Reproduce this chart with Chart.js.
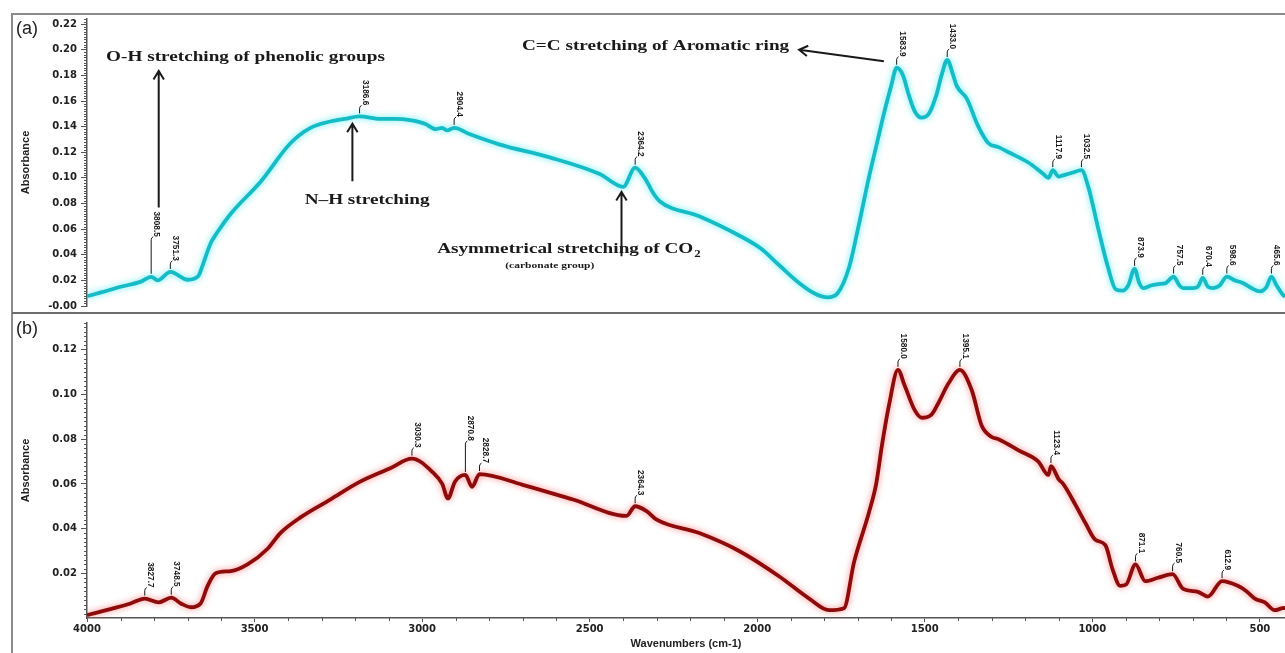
<!DOCTYPE html>
<html>
<head>
<meta charset="utf-8">
<script src="https://cdn.jsdelivr.net/npm/chart.js@4/dist/chart.umd.min.js"></script>
<style>
  body { margin: 0; background: #fff; width: 1285px; height: 653px; overflow: hidden; position: relative; font-family: "Liberation Sans", Arial, sans-serif; }
  #frame { position: absolute; left: 11px; top: 13px; width: 1300px; height: 660px; border-left: 2px solid #8c8c8c; border-top: 2px solid #8c8c8c; }
  #sep { position: absolute; left: 12px; top: 312px; width: 1273px; border-top: 2px solid #6c6c6c; }
  canvas { position: absolute; left: 0; }
  #ca { top: 0; }
  #cb { top: 313px; }
  .tag { position: absolute; left: 16px; font-size: 18px; color: #222; }
</style>
</head>
<body>
<div id="frame"></div>
<canvas id="ca" width="1285" height="316"></canvas>
<canvas id="cb" width="1285" height="340"></canvas>
<div id="sep"></div>
<div class="tag" style="top:18px">(a)</div>
<div class="tag" style="top:318px">(b)</div>
<script>
// spectrum (a) - cyan
const waveA = [4000, 3958, 3899, 3839, 3808.5, 3789, 3751.3, 3699, 3667, 3660, 3631, 3610, 3571, 3482, 3393, 3333, 3274, 3230, 3186.6, 3125, 3080, 3036, 2990, 2960, 2940, 2925, 2904.4, 2857, 2768, 2619, 2470, 2400, 2364.2, 2336, 2310, 2292, 2173, 2054, 1990, 1935, 1875, 1830, 1790, 1760, 1726, 1697, 1667, 1640, 1622, 1600, 1583.9, 1565, 1548, 1530, 1510, 1488, 1465, 1450, 1433.0, 1415, 1405, 1375, 1340, 1310, 1280, 1250, 1191, 1160, 1146, 1131, 1117.9, 1100, 1087, 1060, 1032.5, 1012, 982, 953, 930, 910, 893, 873.9, 860, 848, 825, 804, 780, 757.5, 740, 729, 700, 685, 670.4, 655, 640, 620, 598.6, 575, 551, 525, 500, 480, 465.6, 450, 432, 425];
const absA  = [0.0076, 0.0106, 0.0150, 0.0190, 0.0228, 0.0200, 0.0266, 0.0205, 0.0236, 0.0280, 0.0490, 0.0580, 0.0720, 0.0970, 0.1270, 0.1390, 0.1440, 0.1460, 0.1480, 0.1460, 0.1460, 0.1450, 0.1420, 0.1380, 0.1390, 0.1370, 0.1390, 0.1340, 0.1260, 0.1160, 0.1030, 0.0930, 0.1080, 0.1000, 0.0880, 0.0820, 0.0700, 0.0550, 0.0450, 0.0320, 0.0180, 0.0100, 0.0068, 0.0100, 0.0300, 0.0630, 0.1000, 0.1300, 0.1500, 0.1720, 0.1860, 0.1800, 0.1650, 0.1520, 0.1470, 0.1500, 0.1650, 0.1800, 0.1920, 0.1800, 0.1720, 0.1620, 0.1400, 0.1270, 0.1240, 0.1200, 0.1120, 0.1060, 0.1030, 0.1000, 0.1060, 0.1010, 0.1020, 0.1040, 0.1060, 0.0930, 0.0600, 0.0300, 0.0130, 0.0120, 0.0160, 0.0290, 0.0180, 0.0140, 0.0160, 0.0170, 0.0180, 0.0230, 0.0160, 0.0140, 0.0140, 0.0150, 0.0220, 0.0150, 0.0140, 0.0160, 0.0230, 0.0200, 0.0180, 0.0140, 0.0114, 0.0150, 0.0230, 0.0160, 0.0090, 0.0070];

// spectrum (b) - dark red
const waveB = [4000, 3920, 3870, 3827.7, 3786, 3748.5, 3720, 3690, 3661, 3640, 3616, 3571, 3521, 3461, 3423, 3363, 3274, 3185, 3095, 3030.3, 2967, 2940, 2923, 2902, 2870.8, 2851, 2828.7, 2700, 2550, 2390, 2364.3, 2330, 2300, 2173, 2054, 1935, 1845, 1786, 1741, 1711, 1667, 1645, 1628, 1607, 1580.0, 1560, 1530, 1509, 1480, 1460, 1429, 1395.1, 1360, 1330, 1300, 1280, 1220, 1161, 1131, 1123.4, 1100, 1087, 1048, 1021, 991, 961, 940, 917, 899, 871.1, 842, 804, 760.5, 729, 685, 655, 612.9, 566, 540, 515, 485, 456, 432, 425];
const absB  = [0.0013, 0.0044, 0.0065, 0.0087, 0.0070, 0.0091, 0.0065, 0.0048, 0.0065, 0.0144, 0.0200, 0.0210, 0.0240, 0.0310, 0.0380, 0.0450, 0.0530, 0.0610, 0.0670, 0.0713, 0.0650, 0.0600, 0.0535, 0.0610, 0.0640, 0.0587, 0.0644, 0.0596, 0.0530, 0.0457, 0.0500, 0.0478, 0.0440, 0.0380, 0.0300, 0.0187, 0.0087, 0.0035, 0.0044, 0.0250, 0.0470, 0.0600, 0.0770, 0.0950, 0.1110, 0.1040, 0.0930, 0.0896, 0.0910, 0.0960, 0.1050, 0.1110, 0.1020, 0.0860, 0.0810, 0.0800, 0.0750, 0.0700, 0.0640, 0.0680, 0.0620, 0.0600, 0.0500, 0.0426, 0.0350, 0.0326, 0.0220, 0.0144, 0.0150, 0.0240, 0.0165, 0.0180, 0.0196, 0.0130, 0.0117, 0.0096, 0.0165, 0.0144, 0.0120, 0.0087, 0.0070, 0.0035, 0.0044, 0.0045];

const peaksA = [3808.5, 3751.3, 3186.6, 2904.4, 2364.2, 1583.9, 1433.0, 1117.9, 1032.5, 873.9, 757.5, 670.4, 598.6, 465.6];
const peaksB = [3827.7, 3748.5, 3030.3, 2870.8, 2828.7, 2364.3, 1580.0, 1395.1, 1123.4, 871.1, 760.5, 612.9];

const yTicksA = [0, 0.02, 0.04, 0.06, 0.08, 0.10, 0.12, 0.14, 0.16, 0.18, 0.20, 0.22];
const yTicksB = [0.02, 0.04, 0.06, 0.08, 0.10, 0.12];
const xTicks = [4000, 3500, 3000, 2500, 2000, 1500, 1000, 500];

const AXIS = '#555';
const INK = '#1a1a1a';
const TICK_FONT = { family: 'DejaVu Sans', size: 10, weight: 'bold' };

function valueAt(waves, vals, w) {
  for (let i = 0; i < waves.length - 1; i++) {
    if (w <= waves[i] && w >= waves[i + 1]) {
      const t = (waves[i] - w) / (waves[i] - waves[i + 1]);
      return vals[i] + t * (vals[i + 1] - vals[i]);
    }
  }
  return 0;
}

function drawPeak(ctx, x, y, txt, lift) {
  ctx.save();
  ctx.strokeStyle = INK;
  ctx.lineWidth = 1;
  ctx.beginPath();
  ctx.moveTo(x, y - 3);
  ctx.lineTo(x, y - lift);
  ctx.quadraticCurveTo(x, y - lift - 2, x + 2, y - lift - 3);
  ctx.stroke();
  ctx.translate(x + 1, y - lift - 3);
  ctx.rotate(Math.PI / 2);
  ctx.scale(0.92, 1);
  ctx.font = 'bold 9px "Liberation Sans"';
  ctx.textAlign = 'right';
  ctx.textBaseline = 'bottom';
  ctx.fillStyle = INK;
  ctx.fillText(txt, 0, 0);
  ctx.restore();
}

function arrow(ctx, x1, y1, x2, y2) {
  const a = Math.atan2(y2 - y1, x2 - x1), h = 10;
  ctx.save();
  ctx.strokeStyle = INK;
  ctx.lineWidth = 2;
  ctx.beginPath();
  ctx.moveTo(x1, y1);
  ctx.lineTo(x2, y2);
  ctx.moveTo(x2 - h * Math.cos(a - 0.55), y2 - h * Math.sin(a - 0.55));
  ctx.lineTo(x2, y2);
  ctx.lineTo(x2 - h * Math.cos(a + 0.55), y2 - h * Math.sin(a + 0.55));
  ctx.stroke();
  ctx.restore();
}

// the reference figure is stretched sideways, so the serif notes are too
function wideText(ctx, txt, x, y, font, align) {
  const k = 1.28;
  ctx.save();
  ctx.font = font;
  ctx.fillStyle = INK;
  ctx.textBaseline = 'middle';
  ctx.textAlign = 'left';
  const w = ctx.measureText(txt).width * k;
  const left = align === 'center' ? x - w / 2 : x;
  ctx.translate(left, y);
  ctx.scale(k, 1);
  ctx.fillText(txt, 0, 0);
  ctx.restore();
  return left + w;
}

const glow = {
  id: 'glow',
  beforeDatasetsDraw(chart) {
    const ds = chart.data.datasets[0];
    chart.ctx.save();
    chart.ctx.shadowColor = ds.glow;
    chart.ctx.shadowBlur = 6;
  },
  afterDatasetsDraw(chart) {
    chart.ctx.restore();
  }
};

const minorTicks = {
  id: 'minorTicks',
  afterDraw(chart) {
    const { ctx, chartArea, scales } = chart;
    const y = scales.y;
    ctx.save();
    ctx.strokeStyle = AXIS;
    ctx.lineWidth = 1;
    ctx.beginPath();
    for (let i = 0; i * 0.002 <= y.max + 1e-9; i++) {
      if (i % 10 === 0) continue;
      const py = Math.round(y.getPixelForValue(i * 0.002)) + 0.5;
      ctx.moveTo(chartArea.left - 3, py);
      ctx.lineTo(chartArea.left, py);
    }
    if (chart.options.scales.x.display) {
      const x = scales.x;
      for (let w = 500; w <= 4000; w += 100) {
        if (w % 500 === 0) continue;
        const px = Math.round(x.getPixelForValue(w)) + 0.5;
        ctx.moveTo(px, chartArea.bottom - 1);
        ctx.lineTo(px, chartArea.bottom + 3);
      }
    }
    ctx.stroke();
    ctx.restore();
  }
};

const peakLabels = {
  id: 'peakLabels',
  afterDatasetsDraw(chart) {
    const ds = chart.data.datasets[0];
    const { ctx, scales } = chart;
    ds.peaks.forEach(p => {
      const x = scales.x.getPixelForValue(p);
      const y = scales.y.getPixelForValue(valueAt(ds.waves, ds.vals, p));
      drawPeak(ctx, x, y, p.toFixed(1), ds.lifts[p] || 8);
    });
  }
};

const notesA = {
  id: 'notesA',
  afterDraw(chart) {
    const { ctx, scales } = chart;
    const X = w => scales.x.getPixelForValue(w);
    const Y = v => scales.y.getPixelForValue(v);
    const serif = 'bold 15px "Liberation Serif"';

    wideText(ctx, 'O-H stretching of phenolic groups', X(3527), Y(0.194), serif, 'center');
    arrow(ctx, X(3786), Y(0.0769), X(3786), Y(0.1834));

    wideText(ctx, 'N\u2013H stretching', X(3164), Y(0.083), serif, 'center');
    arrow(ctx, X(3208), Y(0.0974), X(3208), Y(0.1423));

    const end = wideText(ctx, 'Asymmetrical stretching of CO', X(2955), Y(0.0441), serif, 'left');
    wideText(ctx, '2', end + 1, Y(0.0441) + 5, 'bold 10px "Liberation Serif"', 'left');
    wideText(ctx, '(carbonate group)', X(2619), Y(0.0312), 'bold 9px "Liberation Serif"', 'center');
    arrow(ctx, X(2405), Y(0.0388), X(2405), Y(0.089));

    wideText(ctx, 'C=C stretching of Aromatic ring', X(2702), Y(0.2032), serif, 'left');
    arrow(ctx, X(1622), Y(0.191), X(1875), Y(0.200));
  }
};

function yAxis(max, ticks, fmt) {
  return {
    min: 0,
    max: max,
    afterFit: s => { s.width = 87; },
    afterBuildTicks: s => { s.ticks = ticks.map(v => ({ value: v })); },
    ticks: { font: TICK_FONT, color: '#222', padding: 4, callback: fmt },
    grid: { display: true, drawOnChartArea: false, drawTicks: true, tickLength: 6, color: AXIS },
    border: { color: AXIS, width: 1.5 },
    title: {
      display: true, text: 'Absorbance', color: '#222',
      font: { family: 'Liberation Sans', size: 11, weight: 'bold' },
      padding: { top: 19, bottom: 0 }
    }
  };
}

function dataset(waves, vals, color, glowColor, peaks, lifts) {
  return {
    data: waves.map((w, i) => ({ x: w, y: vals[i] })),
    borderColor: color,
    borderWidth: 3.8,
    pointRadius: 0,
    cubicInterpolationMode: 'monotone',
    glow: glowColor,
    waves, vals, peaks, lifts
  };
}

new Chart(document.getElementById('ca'), {
  type: 'line',
  data: { datasets: [dataset(waveA, absA, '#15bcc6', 'rgba(90,235,245,0.95)', peaksA, { 3808.5: 37 })] },
  options: {
    responsive: false,
    animation: false,
    layout: { padding: { top: 19, bottom: 3, left: 0, right: 0 } },
    plugins: { legend: { display: false }, tooltip: { enabled: false } },
    scales: {
      x: { type: 'linear', reverse: true, min: 425, max: 4000, display: false },
      y: yAxis(0.224, yTicksA, v => v === 0 ? '-0.00' : v.toFixed(2))
    }
  },
  plugins: [glow, minorTicks, peakLabels, notesA]
});

new Chart(document.getElementById('cb'), {
  type: 'line',
  data: { datasets: [dataset(waveB, absB, '#8e0b0b', 'rgba(250,120,120,0.9)', peaksB, { 2870.8: 31 })] },
  options: {
    responsive: false,
    animation: false,
    layout: { padding: { top: 1.4, bottom: 0, left: 0, right: 0 } },
    plugins: { legend: { display: false }, tooltip: { enabled: false } },
    scales: {
      x: {
        type: 'linear', reverse: true, min: 425, max: 4000,
        afterFit: s => { s.height = 35; },
        afterBuildTicks: s => { s.ticks = xTicks.map(v => ({ value: v })); },
        ticks: { font: TICK_FONT, color: '#222', padding: 1, maxRotation: 0, callback: v => String(v) },
        grid: { display: true, drawOnChartArea: false, drawTicks: true, tickLength: 4, color: AXIS },
        border: { color: AXIS, width: 1.5 },
        title: {
          display: true, text: 'Wavenumbers (cm-1)', color: '#222',
          font: { family: 'Liberation Sans', size: 11, weight: 'bold' },
          padding: { top: 0, bottom: 2 }
        }
      },
      y: yAxis(0.132, yTicksB, v => v.toFixed(2))
    }
  },
  plugins: [glow, minorTicks, peakLabels]
});
</script>
</body>
</html>
